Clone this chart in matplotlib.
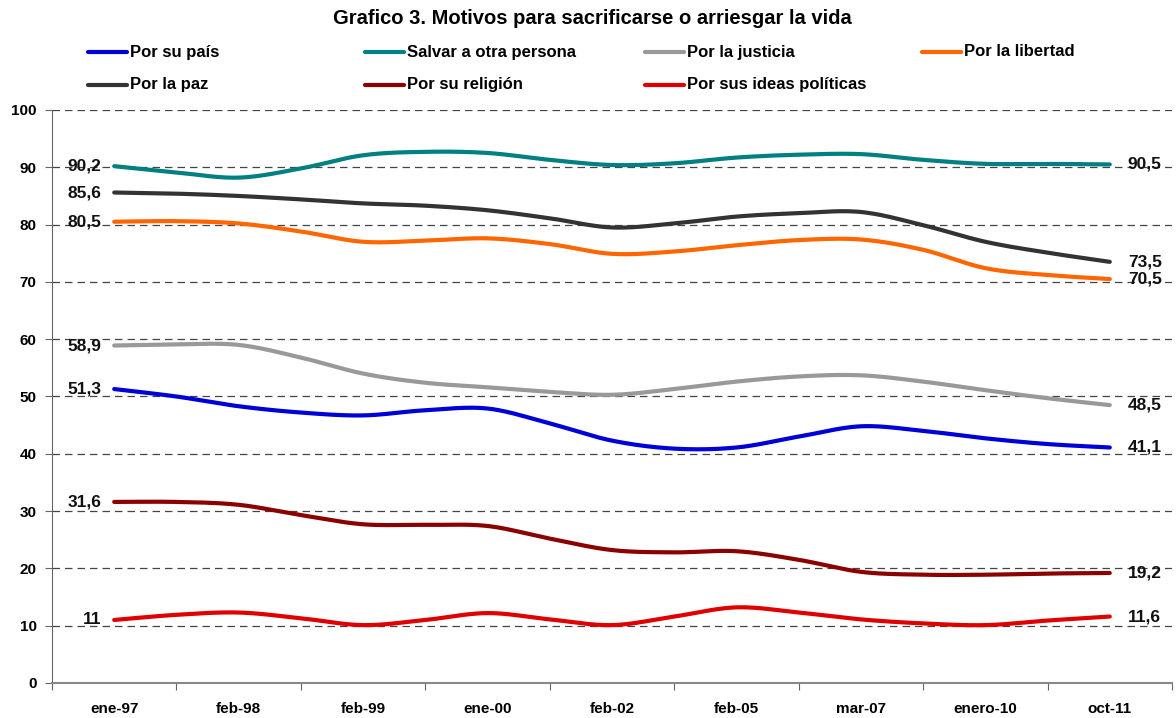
import numpy as np
import matplotlib
matplotlib.use("Agg")
import matplotlib.pyplot as plt
from matplotlib.lines import Line2D

# category labels on the x axis (one every second reading)
categories = ["ene-97", "feb-98", "feb-99", "ene-00", "feb-02",
              "feb-05", "mar-07", "enero-10", "oct-11"]

# readings taken every half category
por_su_pais = [51.3, 50.0, 48.3, 47.2, 46.7, 47.6, 47.9, 45.3, 42.3,
               40.9, 41.1, 43.0, 44.8, 44.0, 42.7, 41.7, 41.1]
salvar_persona = [90.2, 89.1, 88.2, 89.8, 92.1, 92.7, 92.5, 91.3, 90.4,
                  90.7, 91.7, 92.2, 92.3, 91.3, 90.6, 90.6, 90.5]
por_justicia = [58.9, 59.1, 59.0, 56.8, 54.0, 52.4, 51.6, 50.8, 50.3,
                51.3, 52.6, 53.5, 53.7, 52.6, 51.1, 49.7, 48.5]
por_libertad = [80.5, 80.6, 80.2, 78.8, 77.0, 77.2, 77.6, 76.6, 74.9,
                75.3, 76.4, 77.3, 77.4, 75.6, 72.4, 71.2, 70.5]
por_paz = [85.6, 85.4, 85.0, 84.4, 83.7, 83.3, 82.5, 81.1, 79.5,
           80.2, 81.4, 82.0, 82.2, 79.9, 77.0, 75.1, 73.5]
por_religion = [31.6, 31.6, 31.1, 29.3, 27.7, 27.6, 27.4, 25.2, 23.2,
                22.8, 23.0, 21.5, 19.4, 18.9, 18.9, 19.1, 19.2]
por_ideas = [11.0, 11.9, 12.3, 11.3, 10.1, 11.0, 12.2, 11.1, 10.1,
             11.6, 13.2, 12.3, 11.1, 10.4, 10.1, 10.9, 11.6]

series_names = ["Por su país", "Salvar a otra persona", "Por la justicia",
                "Por la libertad", "Por la paz", "Por su religión",
                "Por sus ideas políticas"]
series_values = [por_su_pais, salvar_persona, por_justicia, por_libertad,
                 por_paz, por_religion, por_ideas]
colors = ["#0000d8", "#008080", "#999999", "#ff6600",
          "#333333", "#8b0000", "#e00000"]
start_labels = ["51,3", "90,2", "58,9", "80,5", "85,6", "31,6", "11"]
end_labels = ["41,1", "90,5", "48,5", "70,5", "73,5", "19,2", "11,6"]

plt.rcParams['font.family'] = ['Liberation Sans', 'DejaVu Sans']
plt.rcParams['font.weight'] = 'bold'


def smooth(x, y, n=24):
    # Catmull-Rom curve through the readings, like Excel's smoothed lines
    pts = np.column_stack([x, y])
    p = np.vstack([pts[0], pts, pts[-1]])
    t = np.linspace(0, 1, n, endpoint=False)[:, None]
    out = []
    for i in range(1, len(p) - 2):
        p0, p1, p2, p3 = p[i - 1], p[i], p[i + 1], p[i + 2]
        seg = 0.5 * (2 * p1 + (-p0 + p2) * t
                     + (2 * p0 - 5 * p1 + 4 * p2 - p3) * t ** 2
                     + (-p0 + 3 * p1 - 3 * p2 + p3) * t ** 3)
        out.append(seg)
    out.append(pts[-1][None])
    c = np.vstack(out)
    return c[:, 0], c[:, 1]


fig = plt.figure(figsize=(11.76, 7.18), dpi=100)
ax = fig.add_axes([52 / 1176, 35 / 718, 1120 / 1176, 573 / 718])

xpos = np.arange(len(por_su_pais)) / 2.0

for vals, col, s_lab, e_lab in zip(series_values, colors, start_labels, end_labels):
    sx, sy = smooth(xpos, vals)
    ax.plot(sx, sy, color=col, lw=3, solid_capstyle='round', zorder=3)
    ax.annotate(s_lab, (xpos[0], vals[0]), xytext=(-13, 0), textcoords='offset pixels',
                ha='right', va='center', fontsize=12.5, fontweight='bold', color='#111111')
    ax.annotate(e_lab, (xpos[-1], vals[-1]), xytext=(18, 0), textcoords='offset pixels',
                ha='left', va='center', fontsize=12.5, fontweight='bold', color='#111111')

ax.set_xlim(-0.5, len(categories) - 0.5)
ax.set_ylim(0, 100)
ax.set_yticks(np.arange(0, 101, 10))
ax.set_xticks(np.arange(len(categories) + 1) - 0.5)
ax.set_xticklabels([])
ax.set_xticks(np.arange(len(categories)), minor=True)
ax.set_xticklabels(categories, minor=True, fontsize=11, fontweight='bold')
ax.tick_params(axis='x', which='minor', length=0, pad=14)
ax.tick_params(axis='x', which='major', length=5, color='#666666')
ax.tick_params(axis='y', length=5, color='#666666', labelsize=11, pad=6)
for lab in ax.get_yticklabels():
    lab.set_fontweight('bold')

ax.grid(axis='y', linestyle=(0, (6, 4)), color='#444444', lw=0.9, zorder=1)
for side in ['top', 'right']:
    ax.spines[side].set_visible(False)
ax.spines['left'].set_color('#666666')
ax.spines['bottom'].set_color('#888888')
ax.spines['bottom'].set_linewidth(1.5)

fig.text(592 / 1176, 1 - 18 / 718, "Grafico 3. Motivos para sacrificarse o arriesgar la vida",
         ha='center', va='center', fontsize=14.5, fontweight='bold')

# legend, laid out in two rows like the original
legend_x = [88, 365, 645, 922, 88, 365, 645]
legend_y = [52, 52, 52, 52, 85, 85, 85]
for name, col, lx, ly in zip(series_names, colors, legend_x, legend_y):
    yf = 1 - ly / 718
    fig.add_artist(Line2D([lx / 1176, (lx + 39) / 1176], [yf, yf],
                          color=col, lw=3, solid_capstyle='round'))
    fig.text((lx + 42) / 1176, yf, name, ha='left', va='center',
             fontsize=12, fontweight='bold')

fig.savefig("out.png", dpi=100)
